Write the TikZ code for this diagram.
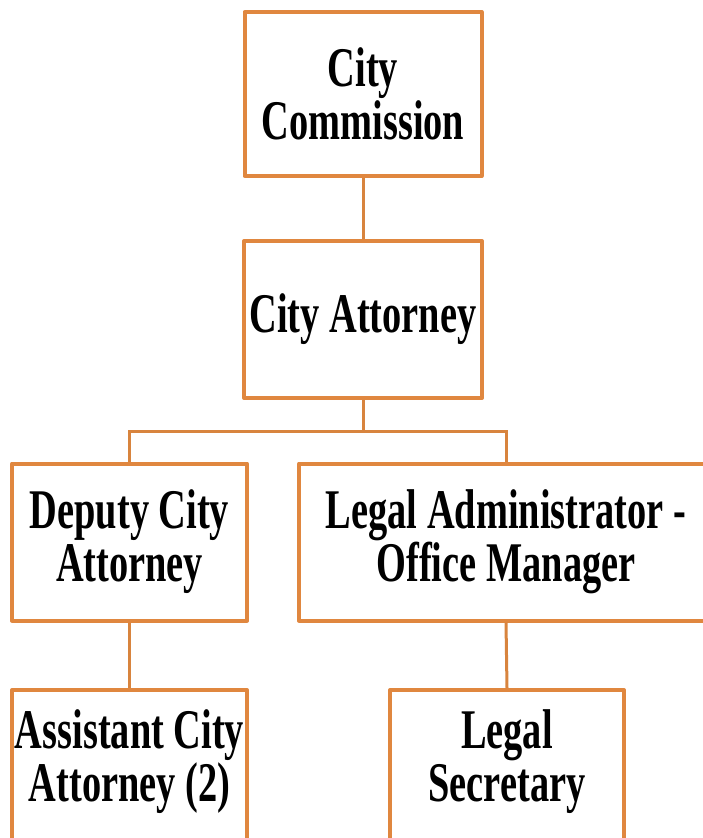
\documentclass[tikz,border=0pt]{standalone}
\usepackage{fontspec}
\setmainfont{Liberation Serif}[FakeStretch=0.685]
\definecolor{boxorange}{HTML}{E0873F}
\definecolor{lineorange}{HTML}{D8843E}
\begin{document}
\begin{tikzpicture}[x=1pt,y=-1pt,
  box/.style={draw=boxorange, line width=4pt, fill=white, rectangle, inner sep=0pt, line join=round},
  lbl/.style={align=center, font=\bfseries\fontsize{56}{53}\selectfont, inner sep=0pt, text=black},
  conn/.style={draw=lineorange, line width=3pt}]
\useasboundingbox (0,0) rectangle (702,838);
% connectors first
\coordinate (bus) at (363,431);
% boxes
\node[box, minimum width=237pt, minimum height=164pt] (com) at (363,94) {};
\node[box, minimum width=238pt, minimum height=157pt] (att) at (363,319.5) {};
\node[box, minimum width=235pt, minimum height=157pt] (dep) at (129.5,542) {};
\node[box, minimum width=414pt, minimum height=157pt] (adm) at (506,542) {};
\node[box, minimum width=235pt, minimum height=200pt, anchor=north] (ast) at (129.5,688) {};
\node[box, minimum width=234pt, minimum height=200pt, anchor=north] (sec) at (507,688) {};
% connectors
\draw[conn] (com.south) -- (att.north);
\draw[conn] (att.south) -- (bus);
\draw[conn] (dep.north) |- (bus) -| (adm.north);
\draw[conn] (dep.south) -- (ast.north);
\draw[conn] (adm.south) -- (sec.north);
% labels
\node[lbl] (tcom) at (com) {City\\Commission};
\node[lbl] (tatt) at (att) {City Attorney};
\node[lbl] (tdep) at (dep) {Deputy City\\Attorney};
\node[lbl] (tadm) at (adm) {Legal Administrator -\\Office Manager};
\node[lbl] (tast) at (129.5,762) {Assistant City\\Attorney (2)};
\node[lbl] (tsec) at (507,762) {Legal\\Secretary};
\end{tikzpicture}
\end{document}
